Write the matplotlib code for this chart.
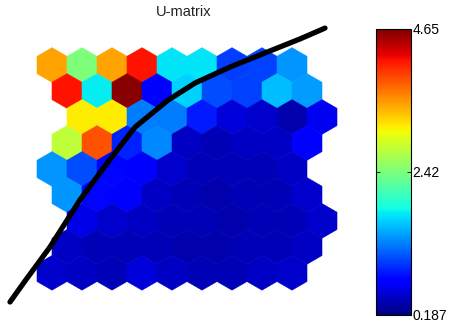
import numpy as np
import matplotlib
matplotlib.use("Agg")
import matplotlib.pyplot as plt
from matplotlib.patches import RegularPolygon
from matplotlib.collections import PatchCollection

plt.rcParams['font.family'] = ['Liberation Sans', 'DejaVu Sans']

nan = np.nan
# U-matrix values, row 0 at the top, odd rows shifted half a cell right
umat = np.array([
    [3.47, 2.42, 3.47, 4.16, 1.75, 1.75, 1.01, 1.04, 1.39, nan],
    [4.16, 1.79, 4.60, 0.72, 1.66, 1.08, 1.04, 1.57, 1.44, nan],
    [nan, 3.13, 3.13, 1.30, 1.30, 0.86, 0.54, 0.50, 0.37, 0.63],
    [2.78, 3.85, 0.90, 1.35, 0.46, 0.41, 0.46, 0.46, 0.68, nan],
    [1.39, 1.08, 0.77, 0.72, 0.50, 0.41, 0.41, 0.41, 0.46, nan],
    [1.39, 0.77, 0.72, 0.46, 0.41, 0.37, 0.41, 0.41, 0.50, nan],
    [nan, 0.59, 0.50, 0.46, 0.41, 0.41, 0.37, 0.41, 0.41, 0.50],
    [0.46, 0.41, 0.41, 0.41, 0.37, 0.37, 0.41, 0.41, 0.46, nan],
    [0.50, 0.46, 0.41, 0.54, 0.46, 0.41, 0.41, 0.46, 0.50, nan],
])
vmin, vmax = 0.187, 4.65
cbar_ticks = [0.187, 2.42, 4.65]
cbar_labels = ['0.187', '2.42', '4.65']

# boundary curve (grid units)
curve_x = [-1.40, -0.90, -0.07, 0.93, 1.87, 2.77, 3.87, 4.77, 5.93, 7.17, 8.27, 9.10]
curve_y = [7.90, 7.20, 6.07, 4.50, 3.23, 2.07, 1.17, 0.60, 0.07, -0.43, -0.87, -1.23]

W, H = 451, 326
fig = plt.figure(figsize=(W / 100, H / 100), dpi=100)
ax = fig.add_axes([0, 16 / H, 350 / W, 285 / H])

dy = np.sqrt(3) / 2
hexes, vals = [], []
for r in range(umat.shape[0]):
    for c in range(umat.shape[1]):
        v = umat[r, c]
        if np.isnan(v):
            continue
        x = c + 0.5 * (r % 2)
        hexes.append(RegularPolygon((x, r * dy), numVertices=6, radius=1 / np.sqrt(3), orientation=0))
        vals.append(v)

pc = PatchCollection(hexes, cmap='jet', edgecolor='face', linewidth=0.4)
pc.set_array(np.array(vals))
pc.set_clim(vmin, vmax)
ax.add_collection(pc)

ax.plot(curve_x, curve_y, color='black', lw=3.8, solid_capstyle='round', clip_on=False)

ax.set_xlim(-52 / 30, 298 / 30)
ax.set_ylim(245 / 30, -40 / 30)
ax.axis('off')

fig.text(184 / W, 1 - 12.5 / H, 'U-matrix', ha='center', va='center', fontsize=10.5, color='#222222')

cax = fig.add_axes([376 / W, 1 - 315 / H, 35 / W, 286 / H])
cb = fig.colorbar(pc, cax=cax, ticks=cbar_ticks)
cb.ax.set_yticklabels(cbar_labels)
cb.ax.tick_params(direction='in', length=3, width=0.6, labelsize=10, pad=1, left=True, right=True)
cb.outline.set_linewidth(0.8)

fig.savefig('out.png', dpi=100)
